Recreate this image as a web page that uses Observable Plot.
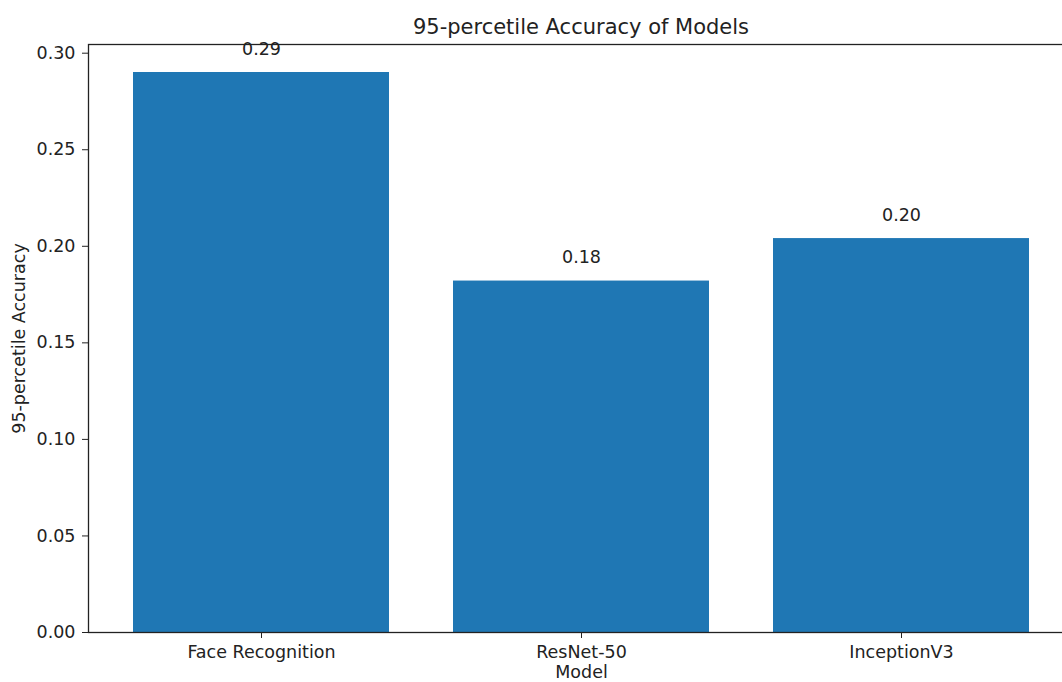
<!DOCTYPE html>
<html>
<head>
<meta charset="utf-8">
<script src="https://cdn.jsdelivr.net/npm/d3@7"></script>
<script src="https://cdn.jsdelivr.net/npm/@observablehq/plot@0.6"></script>
<style>
  html, body { margin: 0; padding: 0; background: #fff; overflow: hidden; }
  #wrap { width: 1074px; font-family: "DejaVu Sans", sans-serif; color: #222; }
  #title { height: 34px; position: relative; }
  #title span { position: absolute; left: 88px; right: 0; top: 17px; text-align: center; font-size: 21px; line-height: 21px; }
</style>
</head>
<body>
<div id="wrap">
  <div id="title"><span>95-percetile Accuracy of Models</span></div>
  <div id="chart"></div>
</div>
<script>
const models = ["Face Recognition", "ResNet-50", "InceptionV3"];
const accuracy = [0.290, 0.182, 0.204];
const labels = ["0.29", "0.18", "0.20"];
const yTicks = [0, 0.05, 0.10, 0.15, 0.20, 0.25, 0.30];

const data = models.map((m, i) => ({model: m, value: accuracy[i], label: labels[i]}));

const chart = Plot.plot({
  width: 1074,
  height: 648,
  marginTop: 10,
  marginLeft: 88,
  marginRight: 0,
  marginBottom: 50,
  style: {fontFamily: "DejaVu Sans, sans-serif", fontSize: "17.5px", color: "#222", background: "#fff"},
  x: {domain: models, paddingInner: 0.2, paddingOuter: 0.14, align: 0.5, label: null},
  y: {domain: [0, 0.3045], label: null},
  marks: [
    Plot.barY(data, {x: "model", y: "value", fill: "#1f77b4"}),
    Plot.text(data, {x: "model", y: "value", text: "label", dy: -18, lineAnchor: "bottom", fontSize: 17.5, fill: "#222"}),
    Plot.frame({stroke: "#222", strokeWidth: 1.3}),
    Plot.axisY({ticks: yTicks, tickFormat: d3.format(".2f"), tickSize: 6, tickPadding: 7, fontSize: 17.5, label: null, stroke: "#222"}),
    Plot.axisX({tickSize: 6, tickPadding: 7, fontSize: 17.5, label: null, stroke: "#222"}),
    Plot.text(["95-percetile Accuracy"], {frameAnchor: "left", textAnchor: "middle", dx: -69, rotate: -90, fontSize: 17.5, fill: "#222"}),
    Plot.text(["Model"], {frameAnchor: "bottom", dy: 45, fontSize: 17.5, fill: "#222"})
  ]
});
document.getElementById("chart").appendChild(chart);
</script>
</body>
</html>
